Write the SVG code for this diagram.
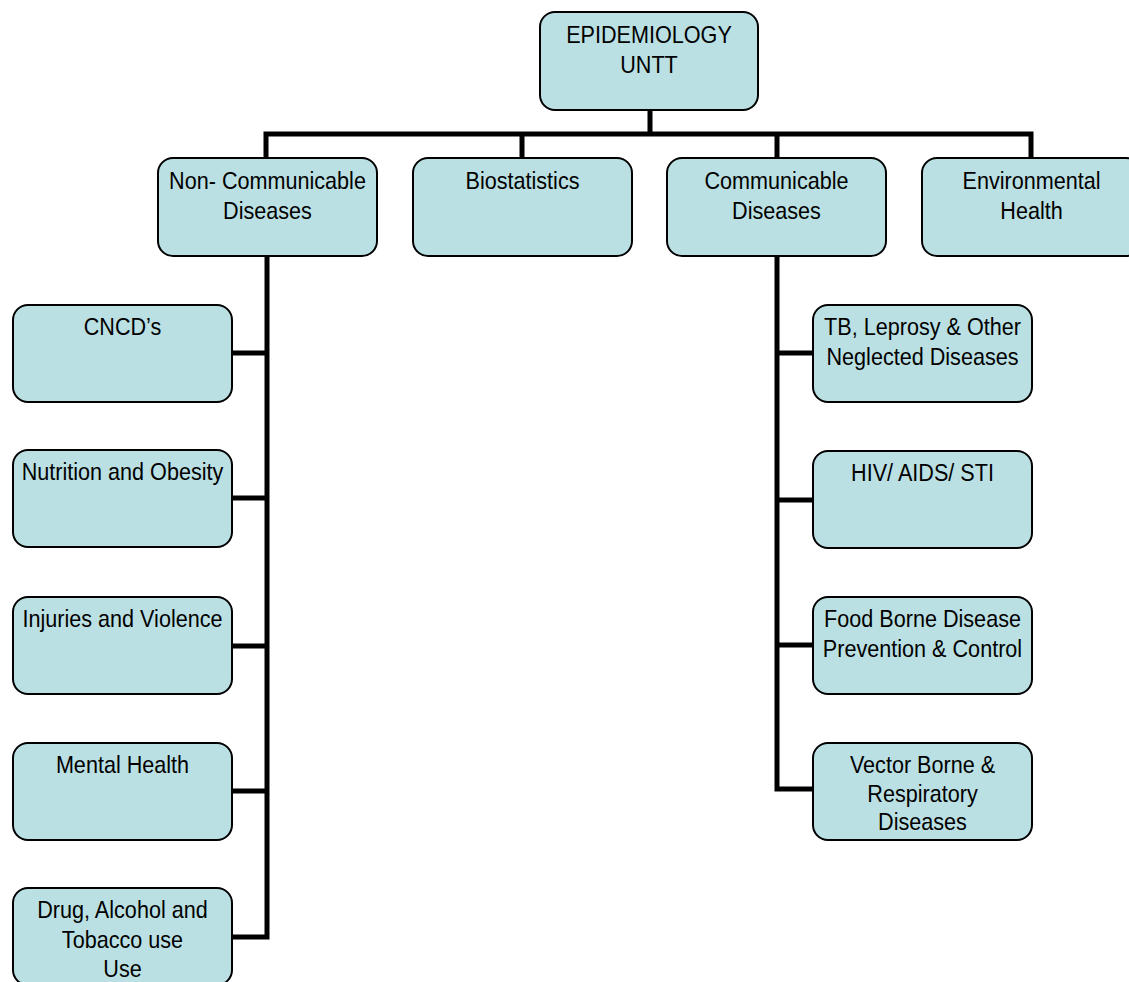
<svg xmlns="http://www.w3.org/2000/svg" width="1129" height="982" viewBox="0 0 1129 982">
<style>
.box{fill:#BBE0E3;stroke:#000;stroke-width:2}
.lbl{font-family:"Liberation Sans",Arial,sans-serif;font-size:24px;fill:#000;text-anchor:middle}
.con{fill:none;stroke:#000;stroke-width:5;stroke-linejoin:miter;stroke-linecap:square}
</style>
<rect width="1129" height="982" fill="#fff"/>
<g id="connectors">
<path class="con" d="M650 110V134M266 134H1031M266 134V158M522 134V158M777 134V158M1031 134V158"/>
<path class="con" d="M267 256V937H232M232 353H267M232 498H267M232 646H267M232 791H267"/>
<path class="con" d="M777 256V789H813M777 353H813M777 500H813M777 645H813"/>
</g>
<g id="epidemiology">
<rect class="box" x="540" y="12" width="218" height="98" rx="15"/>
<text class="lbl" transform="translate(649 43) scale(0.9 1)">EPIDEMIOLOGY</text>
<text class="lbl" transform="translate(649 73) scale(0.9 1)">UNTT</text>
</g>
<g id="ncd">
<rect class="box" x="158" y="158" width="219" height="98" rx="15"/>
<text class="lbl" transform="translate(267.5 189) scale(0.9 1)">Non- Communicable</text>
<text class="lbl" transform="translate(267.5 218.5) scale(0.9 1)">Diseases</text>
</g>
<g id="biostatistics">
<rect class="box" x="413" y="158" width="219" height="98" rx="15"/>
<text class="lbl" transform="translate(522.5 189) scale(0.9 1)">Biostatistics</text>
</g>
<g id="cd">
<rect class="box" x="667" y="158" width="219" height="98" rx="15"/>
<text class="lbl" transform="translate(776.5 189) scale(0.9 1)">Communicable</text>
<text class="lbl" transform="translate(776.5 218.5) scale(0.9 1)">Diseases</text>
</g>
<g id="environmental">
<rect class="box" x="922" y="158" width="219" height="98" rx="15"/>
<text class="lbl" transform="translate(1031.5 189) scale(0.9 1)">Environmental</text>
<text class="lbl" transform="translate(1031.5 218.5) scale(0.9 1)">Health</text>
</g>
<g id="cncd">
<rect class="box" x="13" y="305" width="219" height="97" rx="15"/>
<text class="lbl" transform="translate(122.5 335) scale(0.9 1)">CNCD’s</text>
</g>
<g id="nutrition">
<rect class="box" x="13" y="450" width="219" height="97" rx="15"/>
<text class="lbl" transform="translate(122.5 480) scale(0.9 1)">Nutrition and Obesity</text>
</g>
<g id="injuries">
<rect class="box" x="13" y="597" width="219" height="97" rx="15"/>
<text class="lbl" transform="translate(122.5 627) scale(0.9 1)">Injuries and Violence</text>
</g>
<g id="mental">
<rect class="box" x="13" y="743" width="219" height="97" rx="15"/>
<text class="lbl" transform="translate(122.5 773) scale(0.9 1)">Mental Health</text>
</g>
<g id="drug">
<rect class="box" x="13" y="888" width="219" height="97" rx="15"/>
<text class="lbl" transform="translate(122.5 918) scale(0.9 1)">Drug, Alcohol and</text>
<text class="lbl" transform="translate(122.5 948) scale(0.9 1)">Tobacco use</text>
<text class="lbl" transform="translate(122.5 977) scale(0.9 1)">Use</text>
</g>
<g id="tb">
<rect class="box" x="813" y="305" width="219" height="97" rx="15"/>
<text class="lbl" transform="translate(922.5 335) scale(0.9 1)">TB, Leprosy &amp; Other</text>
<text class="lbl" transform="translate(922.5 364.5) scale(0.9 1)">Neglected Diseases</text>
</g>
<g id="hiv">
<rect class="box" x="813" y="451" width="219" height="97" rx="15"/>
<text class="lbl" transform="translate(922.5 481) scale(0.9 1)">HIV/ AIDS/ STI</text>
</g>
<g id="food">
<rect class="box" x="813" y="597" width="219" height="97" rx="15"/>
<text class="lbl" transform="translate(922.5 627) scale(0.9 1)">Food Borne Disease</text>
<text class="lbl" transform="translate(922.5 656.5) scale(0.9 1)">Prevention &amp; Control</text>
</g>
<g id="vector">
<rect class="box" x="813" y="743" width="219" height="97" rx="15"/>
<text class="lbl" transform="translate(922.5 773) scale(0.9 1)">Vector Borne &amp;</text>
<text class="lbl" transform="translate(922.5 801.5) scale(0.9 1)">Respiratory</text>
<text class="lbl" transform="translate(922.5 830) scale(0.9 1)">Diseases</text>
</g>
</svg>
